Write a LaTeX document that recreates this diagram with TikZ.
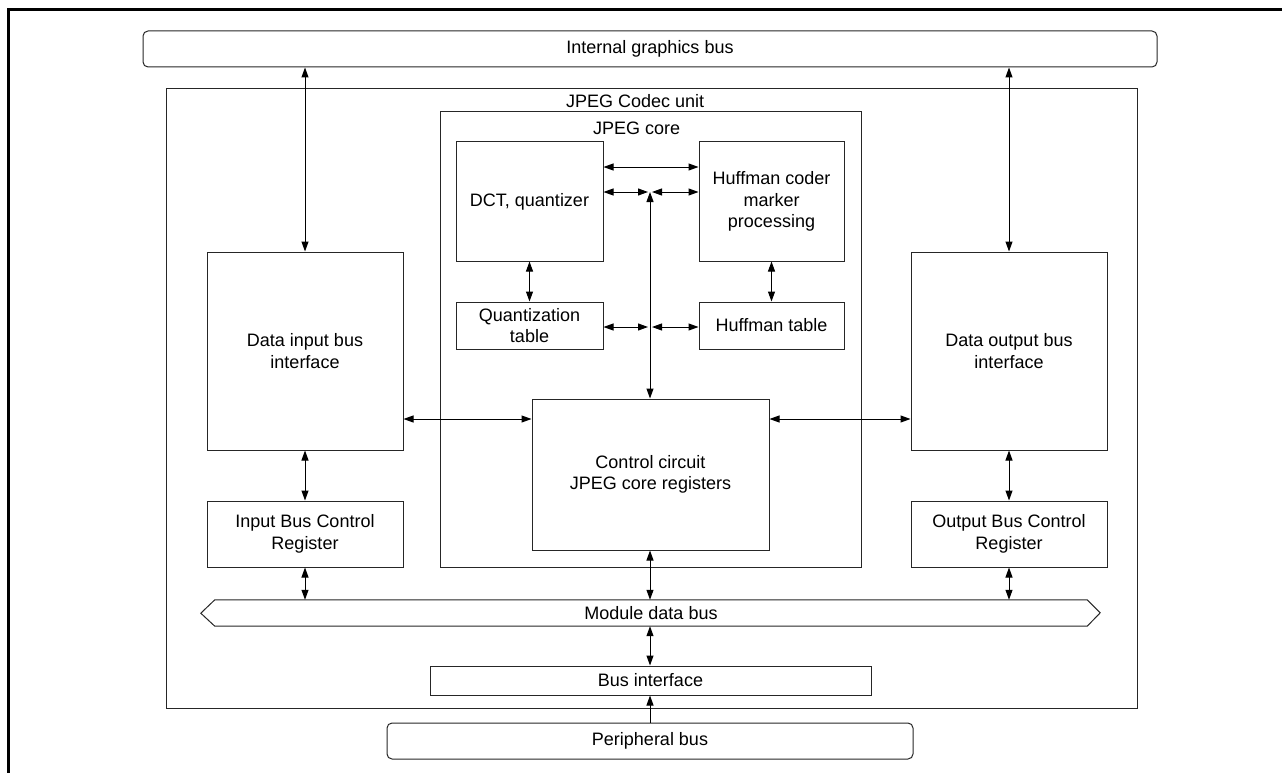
\documentclass[tikz,border=0pt]{standalone}
\usepackage{fontspec}
\setmainfont{Liberation Sans}
\usetikzlibrary{arrows.meta}
\newcommand{\dfsz}{\fontsize{18}{21.5}\selectfont}
\begin{document}
\begin{tikzpicture}[x=1pt,y=-1pt,
  box/.style={draw=black!85, line width=1pt, inner sep=0pt, align=center, font=\dfsz},
  bus/.style={box, rounded corners=5pt},
  lbl/.style={inner sep=0pt, font=\dfsz},
  tip/.style={Triangle[length=10pt,width=7pt]},
  biarr/.style={{Triangle[length=10pt,width=7pt]}-{Triangle[length=10pt,width=7pt]}, line width=1pt, draw=black},
  uniarr/.style={-{Triangle[length=10pt,width=7pt]}, line width=1pt, draw=black}]
\useasboundingbox (0,0) rectangle (1282,773);
\draw[line width=3pt] (8,773) -- (8,10) -- (1282,10);

% containers
\node[box, minimum width=971pt, minimum height=619pt] (codec) at (651.5,398.5) {};
\node[lbl, anchor=west] (codecl) at (566,101) {JPEG Codec unit};
\node[box, minimum width=421pt, minimum height=455pt] (core) at (650.5,339.5) {};
\node[lbl, anchor=west] (corel) at (593,128) {JPEG core};

% buses
\node[bus, minimum width=1014pt, minimum height=36pt] (ibus) at (650,49) {Internal graphics bus};
\node[bus, minimum width=526pt, minimum height=36pt] (pbus) at (650,741) {Peripheral bus};
\node[lbl, minimum width=872pt, minimum height=26pt] (mbus) at (651,613) {Module data bus};
\draw[draw=black!85, line width=1pt, line join=miter]
  (mbus.north west) -- (mbus.north east) -- ++(13,13) -- (mbus.south east)
  -- (mbus.south west) -- ++(-14,-13) -- cycle;

% core blocks
\node[box, minimum width=147pt, minimum height=119pt] (dct) at (529.5,201.5) {DCT, quantizer};
\node[box, minimum width=145pt, minimum height=119pt] (huff) at (771.5,201.5) {Huffman coder\\marker\\processing};
\node[box, minimum width=147pt, minimum height=47pt] (qt) at (529.5,325.5) {Quantization\\table};
\node[box, minimum width=145pt, minimum height=47pt] (ht) at (771.5,325.5) {Huffman table};
\node[box, minimum width=237pt, minimum height=151pt] (ctrl) at (650.5,474.5) {Control circuit\\JPEG core registers};

% side blocks
\node[box, minimum width=196pt, minimum height=198pt] (din) at (305,351) {Data input bus\\interface};
\node[box, minimum width=196pt, minimum height=198pt] (dout) at (1009,351) {Data output bus\\interface};
\node[box, minimum width=196pt, minimum height=66pt] (ibc) at (305,534) {Input Bus Control\\Register};
\node[box, minimum width=196pt, minimum height=66pt] (obc) at (1009,534) {Output Bus Control\\Register};
\node[box, minimum width=441pt, minimum height=29pt] (busif) at (650.5,680.5) {Bus interface};

% junctions
\coordinate (j1) at (650,192);
\coordinate (j2) at (650,327);

% connectors
\draw[biarr] (din.north |- ibus.south) -- (din.north);
\draw[biarr] (dout.north |- ibus.south) -- (dout.north);
\draw[biarr] (din.east |- 0,419) -- (ctrl.west |- 0,419);
\draw[biarr] (ctrl.east |- 0,419) -- (dout.west |- 0,419);
\draw[biarr] (din.south) -- (ibc.north);
\draw[biarr] (dout.south) -- (obc.north);
\draw[biarr] (ibc.south) -- (ibc.south |- mbus.north);
\draw[biarr] (obc.south) -- (obc.south |- mbus.north);
\draw[biarr] (j1 |- ctrl.south) -- (j1 |- mbus.north);
\draw[biarr] (j1 |- mbus.south) -- (j1 |- busif.north);
\draw[uniarr] (j1 |- pbus.north) -- (j1 |- busif.south);

\draw[biarr] (dct.east |- 0,167) -- (huff.west |- 0,167);
\draw[biarr] (dct.east |- j1) -- ([xshift=-2pt]j1);
\draw[biarr] ([xshift=2pt]j1) -- (huff.west |- j1);
\draw[biarr] (j1 |- ctrl.north) -- (j1);
\draw[biarr] (qt.east |- j2) -- ([xshift=-2pt]j2);
\draw[biarr] ([xshift=2pt]j2) -- (ht.west |- j2);
\draw[biarr] (dct.south) -- (qt.north);
\draw[biarr] (huff.south) -- (ht.north);
\end{tikzpicture}
\end{document}
